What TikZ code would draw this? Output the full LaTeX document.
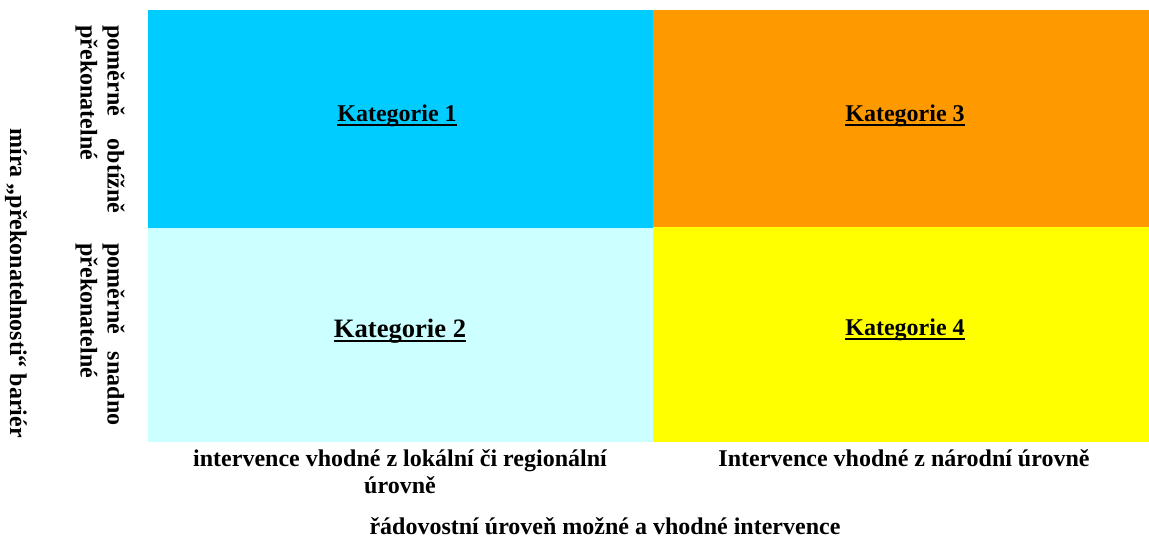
\documentclass[tikz,border=0pt]{standalone}
\usepackage{fontspec}
\setmainfont{Liberation Serif}
\usepackage{tikz}
\usetikzlibrary{positioning}

\definecolor{kat1}{HTML}{00CCFF}
\definecolor{kat2}{HTML}{CCFFFF}
\definecolor{kat3}{HTML}{FF9900}
\definecolor{kat4}{HTML}{FFFF00}
\newcommand{\podtrzeni}[1]{\setbox0\hbox{#1}\rlap{\rule[-1.8pt]{\wd0}{0.9pt}}\box0}

\begin{document}
\begin{tikzpicture}[x=0.5pt,y=0.5pt,
  popis/.style={font=\fontsize{12}{13.5}\selectfont\bfseries, inner sep=0pt},
  bocni/.style={popis, rotate=-90, anchor=west, align=left}]
  \useasboundingbox (0,0) rectangle (1149,539);
  \fill[kat1] (148,311) rectangle (653,529);
  \fill[kat3] (653,312) rectangle (1149,529);
  \fill[kat2] (148,97) rectangle (653,311);
  \fill[kat4] (653,97) rectangle (1149,312);
  \node[popis, anchor=base] (k1) at (397,417) {\podtrzeni{Kategorie 1}};
  \node[popis, anchor=base] (k3) at (905,417) {\podtrzeni{Kategorie 3}};
  \node[popis, anchor=base, font=\fontsize{13.3}{15}\selectfont\bfseries] (k2) at (400,201) {\podtrzeni{Kategorie 2}};
  \node[popis, anchor=base] (k4) at (905,203) {\podtrzeni{Kategorie 4}};
  \node[bocni, text width=94pt] (obtizne) at (100,514) {poměrně\hfill obtížně\\překonatelné}; % horní řádek
  \node[bocni, text width=91pt] (snadno) at (100,296) {poměrně\hfill snadno\\překonatelné}; % dolní řádek
  \node[bocni] (mira) at (16,411) {míra „překonatelnosti“ bariér};
  \node[popis, align=center, anchor=base] (lokalni) at (400,45) {intervence vhodné z lokální či regionální\\úrovně};
  \node[popis, anchor=base] (narodni) at (904,72) {Intervence vhodné z národní úrovně};
  \node[popis, anchor=base] (rad) at (605,4) {řádovostní úroveň možné a vhodné intervence};
\end{tikzpicture}
\end{document}
